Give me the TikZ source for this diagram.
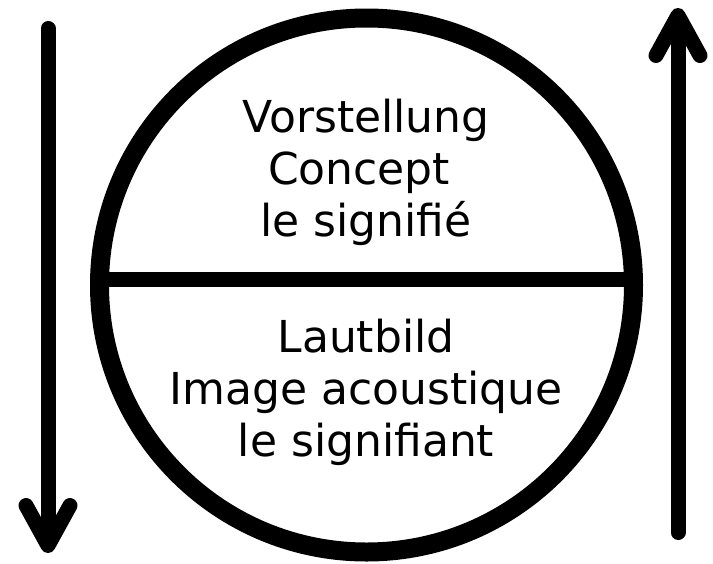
\documentclass[tikz,border=0pt]{standalone}
\usepackage{fontspec}
\setmainfont{DejaVu Sans}
\usetikzlibrary{arrows.meta}
\begin{document}
\begin{tikzpicture}[x=1pt,y=-1pt,
    line cap=round,line join=round,
    sign/.style={line width=19pt},
    bar/.style={line width=15pt},
    flow/.style={line width=15pt,-{Straight Barb[length=40pt,width=44pt,line cap=round,line join=round]}},
    label/.style={align=center,font=\fontsize{44}{52}\selectfont,inner sep=0pt}]
  \useasboundingbox (0,0) rectangle (713,563);
  % The sign.
  \node[draw,circle,sign,minimum size=534pt,inner sep=0pt,outer sep=0pt] (sign) at (366.5,285) {};
  \draw[bar] (sign.west |- 0,279.5) -- (sign.east |- 0,279.5);
  \node[label,anchor=base] (signifie) at (366,236)
    {Vorstellung\\Concept\hphantom{\ }\\le signifié};
  \node[label,anchor=base] (signifiant) at (366,456)
    {Lautbild\\Image acoustique\\le signifiant};
  % Two directions.
  \coordinate (downtop) at (48,28.5);
  \coordinate (downend) at (48,553);
  \coordinate (upbot) at (678,532.5);
  \coordinate (uptop) at (678,8);
  \draw[flow] (downtop) -- (downend);
  \draw[flow] (upbot) -- (uptop);
\end{tikzpicture}
\end{document}
